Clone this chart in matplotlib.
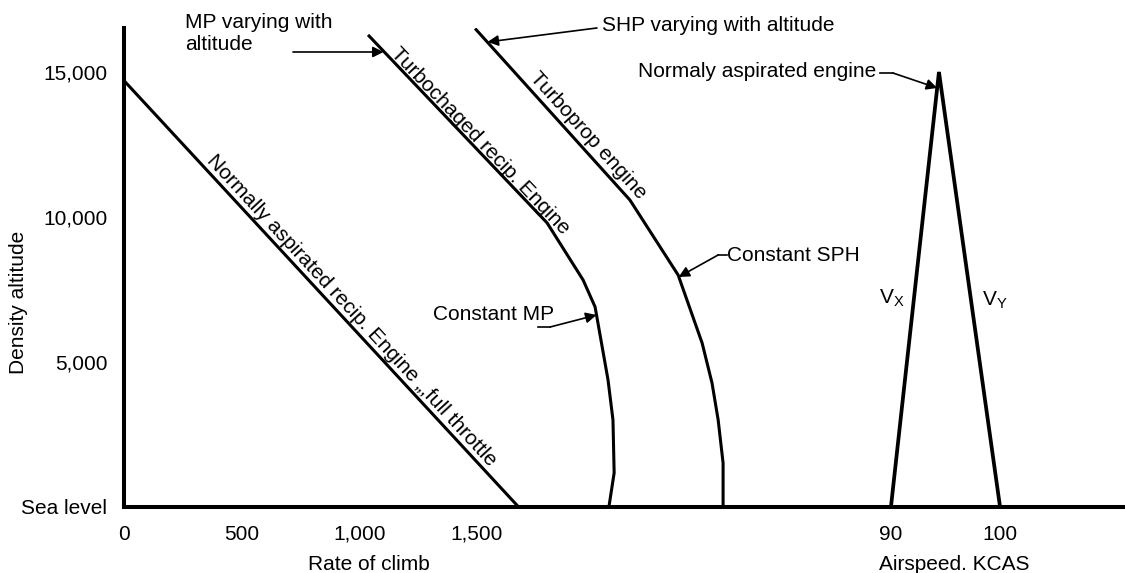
import numpy as np
import matplotlib
matplotlib.use('Agg')
import matplotlib.pyplot as plt

plt.rcParams['font.family'] = ['Liberation Sans', 'DejaVu Sans']
plt.rcParams['font.size'] = 15
plt.rcParams['mathtext.default'] = 'regular'

# ---------------- data ----------------
rate_ticks = [0, 500, 1000, 1500]
rate_tick_labels = ['0', '500', '1,000', '1,500']
kcas_ticks = [90, 100]
kcas_tick_labels = ['90', '100']
alt_ticks = [0, 5000, 10000, 15000]
alt_tick_labels = ['Sea level', '5,000', '10,000', '15,000']

# normally aspirated reciprocating engine (full throttle)
na_rate = [0, 1675]
na_alt = [14700, 0]
# turbocharged reciprocating engine
turbo_rate = [1037, 1798, 1951, 2002, 2057, 2078, 2083, 2061]
turbo_alt = [16280, 9790, 7820, 6890, 4370, 2990, 1160, 0]
# turboprop engine
tprop_rate = [1492, 2150, 2355, 2457, 2499, 2525, 2546, 2546]
tprop_alt = [16500, 10580, 7990, 5640, 4260, 2990, 1500, 0]
# Vx / Vy airspeeds (normally aspirated engine)
v_kcas = [90, 94.4, 100]
v_alt = [0, 15000, 0]

# ---------------- figure ----------------
W, H, DPI = 1125, 573, 100
fig = plt.figure(figsize=(W / DPI, H / DPI), dpi=DPI)
ax = fig.add_axes([124 / W, (H - 506.5) / H, 1001 / W, 478.5 / H])
ax.set_xlim(0, 4254)
ax.set_ylim(0, 16517)
ax2 = ax.twiny()
ax2.set_xlim(19.63, 111.47)

for a in (ax, ax2):
    for s in a.spines.values():
        s.set_visible(False)
for side in ('left', 'bottom'):
    sp = ax.spines[side]
    sp.set_visible(True)
    sp.set_linewidth(2.9)
    sp.set_capstyle('projecting')
    sp.set_zorder(5)

ax.set_xticks(rate_ticks, rate_tick_labels)
ax.set_yticks(alt_ticks, alt_tick_labels)
ax2.xaxis.set_ticks_position('bottom')
ax2.xaxis.set_label_position('bottom')
ax2.set_xticks(kcas_ticks, kcas_tick_labels)
ax.tick_params(axis='x', length=0, pad=13, labelsize=15)
ax2.tick_params(axis='x', length=0, pad=13, labelsize=15)
ax.tick_params(axis='y', length=0, pad=12, labelsize=15)

ax.set_xlabel('Rate of climb', fontsize=15, va='center')
ax.xaxis.set_label_coords(0.2448, -0.122)
ax2.set_xlabel('Airspeed. KCAS', fontsize=15, va='center')
ax2.xaxis.set_label_coords(0.829, -0.122)
ax.set_ylabel('Density altitude', fontsize=15, va='center', ha='center')
ax.yaxis.set_label_coords(-0.1049, 0.4274)

lw = 2.2
ax.plot(na_rate, na_alt, color='black', lw=lw, solid_capstyle='butt')
ax.plot(turbo_rate, turbo_alt, color='black', lw=lw, solid_capstyle='butt')
ax.plot(tprop_rate, tprop_alt, color='black', lw=lw, solid_capstyle='butt')
ax2.plot(v_kcas, v_alt, color='black', lw=2.7, solid_joinstyle='miter',
         solid_capstyle='butt')


def along(x0, y0, x1, y1, xc, yc, s, off=4.5):
    p0 = ax.transData.transform((x0, y0))
    p1 = ax.transData.transform((x1, y1))
    ang = np.degrees(np.arctan2(p1[1] - p0[1], p1[0] - p0[0]))
    r = np.radians(ang)
    n = (-np.sin(r), np.cos(r))
    ax.annotate(s, xy=(xc, yc), xytext=(off * n[0], off * n[1]),
                textcoords='offset points', rotation=ang,
                rotation_mode='anchor', ha='center', va='baseline',
                fontsize=15)


along(na_rate[0], na_alt[0], na_rate[1], na_alt[1], 931, 6507,
      'Normally aspirated recip. Engine \u201e,full throttle')
along(turbo_rate[0], turbo_alt[0], turbo_rate[1], turbo_alt[1], 1479, 12341,
      'Turbochaged recip. Engine')
along(tprop_rate[0], tprop_alt[0], tprop_rate[1], tprop_alt[1], 1934, 12548,
      'Turboprop engine')

arrow = dict(arrowstyle='-|>', color='black', lw=1.2, mutation_scale=16,
             shrinkA=0, shrinkB=0)

# MP varying with altitude
ax.text(259, 16330, 'MP varying with\naltitude', ha='left', va='center',
        fontsize=15, clip_on=False, linespacing=1.2)
ax.annotate('', xy=(1103, 15689), xytext=(718, 15689), arrowprops=arrow,
            annotation_clip=False)
# SHP varying with altitude
ax.text(2032, 16587, 'SHP varying with altitude', ha='left', va='center',
        fontsize=15, clip_on=False)
ax.annotate('', xy=(1545, 16035), xytext=(2010, 16518), arrowprops=arrow,
            annotation_clip=False)
# Constant MP
ax.text(1313, 6611, 'Constant MP', ha='left', va='center', fontsize=15)
ax.plot([1760, 1811], [6196, 6196], color='black', lw=1.2)
ax.annotate('', xy=(2008, 6611), xytext=(1811, 6196), arrowprops=arrow)
# Constant SPH
ax.text(2563, 8647, 'Constant SPH', ha='left', va='center', fontsize=15)
ax.plot([2525, 2563], [8682, 8682], color='black', lw=1.2)
ax.annotate('', xy=(2357, 7922), xytext=(2525, 8682), arrowprops=arrow)
# Normaly aspirated engine
ax2.text(88.62, 14999, 'Normaly aspirated engine', ha='right', va='center',
         fontsize=15)
ax2.plot([88.99, 90.18], [14964, 14964], color='black', lw=1.2)
ax2.annotate('', xy=(94.24, 14446), xytext=(90.18, 14964), arrowprops=arrow)
# Vx, Vy
ax2.text(90.09, 7198, r'V$_{X}$', ha='center', va='center', fontsize=15)
ax2.text(99.54, 7128, r'V$_{Y}$', ha='center', va='center', fontsize=15)

fig.savefig('out.png', dpi=DPI)
